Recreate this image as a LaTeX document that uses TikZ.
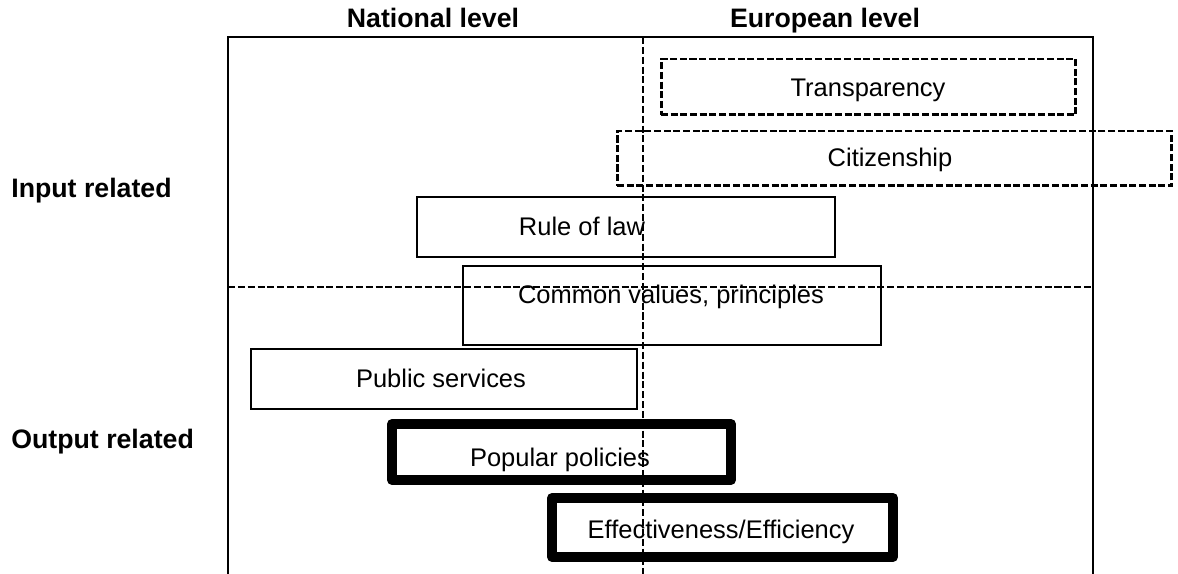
\documentclass[tikz,border=0pt]{standalone}
\usepackage{fontspec}
\setmainfont{Liberation Sans}
\usetikzlibrary{positioning}

\begin{document}
\begin{tikzpicture}[x=0.02cm, y=-0.02cm, font=\fontsize{14.5}{17}\selectfont,
        frameline/.style={line width=0.85pt},
        divider/.style={line width=0.8pt, dash pattern=on 4pt off 1.6pt},
        plainbox/.style={draw, line width=0.85pt, inner sep=0pt},
        dashbox/.style={draw, line width=1.7pt, dash pattern=on 4pt off 1.5pt, inner sep=0pt},
        thickbox/.style={draw, line width=5.7pt, line join=round, inner sep=0pt},
        boxtext/.style={anchor=base, inner sep=0pt},
        heading/.style={anchor=base, inner sep=0pt, font=\fontsize{15.2}{18}\selectfont\bfseries}]
        %
        \useasboundingbox (0,0) rectangle (1178,574);
        %
        \draw [frameline] (228,574) |- (1093,37) -- (1093,574);
        \draw [divider] (228,287) -- (1093,287);
        \draw [divider] (643,37) -- (643,574);
        %
        \node [heading] (national) at (433,28) {National level};
        \node [heading] (european) at (825,28) {European level};
        \node [heading, anchor=base west] (input) at (11,198) {Input related};
        \node [heading, anchor=base west] (output) at (11,449) {Output related};
        %
        \node [dashbox, minimum width=8.3cm, minimum height=1.12cm] (transp) at (868.5,87) {};
        \node [dashbox, minimum width=11.1cm, minimum height=1.1cm] (citiz) at (894.5,158.5) {};
        \node [plainbox, minimum width=8.36cm, minimum height=1.2cm] (law) at (626,227) {};
        \node [plainbox, minimum width=8.36cm, minimum height=1.58cm] (values) at (672,305.5) {};
        \node [plainbox, minimum width=7.72cm, minimum height=1.2cm] (services) at (444,379) {};
        \node [thickbox, minimum width=6.78cm, minimum height=1.12cm] (policies) at (561.5,452) {};
        \node [thickbox, minimum width=6.82cm, minimum height=1.18cm] (effect) at (722.5,527.5) {};
        %
        \node [boxtext] (transptext) at (868,97) {Transparency};
        \node [boxtext] (citiztext) at (890,167) {Citizenship};
        \node [boxtext] (lawtext) at (582,236) {Rule of law};
        \node [boxtext] (valuestext) at (671,304) {Common values, principles};
        \node [boxtext] (servicestext) at (441,388) {Public services};
        \node [boxtext] (policiestext) at (560,467) {Popular policies};
        \node [boxtext] (effecttext) at (721,539) {Effectiveness/Efficiency};
\end{tikzpicture}
\end{document}
